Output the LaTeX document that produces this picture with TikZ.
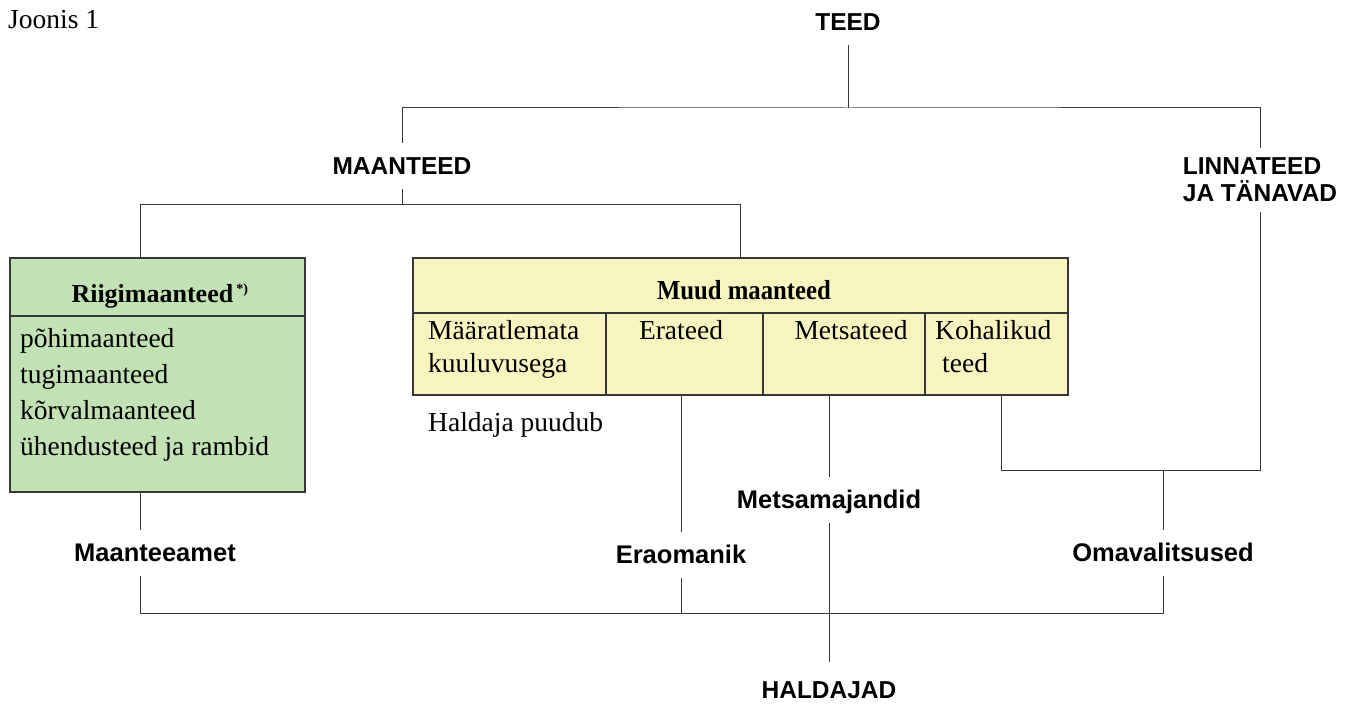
\documentclass[tikz,border=0pt]{standalone}
\usepackage{fontspec}
\setmainfont{Liberation Serif}
\setsansfont{Liberation Sans}
\usetikzlibrary{positioning}

\definecolor{riigiroheline}{RGB}{194,225,180}
\definecolor{muudkollane}{RGB}{248,244,192}
\definecolor{joonevarv}{RGB}{55,55,55}

\tikzset{
  lbl/.style={font=\sffamily\bfseries\fontsize{24.5}{27}\selectfont, inner xsep=2pt, inner ysep=14pt, text height=17.5pt, text depth=0pt},
  haldaja/.style={lbl, font=\sffamily\bfseries\fontsize{25.5}{28}\selectfont},
  txt/.style={font=\fontsize{27.5}{34}\selectfont, inner sep=0pt, text height=18pt, text depth=0pt},
  joon/.style={draw=joonevarv, line width=1pt},
  kast/.style={draw=joonevarv, line width=1.3pt, inner sep=0pt},
}

\begin{document}
\begin{tikzpicture}[x=1pt,y=-1pt]
\useasboundingbox (0,0) rectangle (1356,708);
\node[txt, anchor=west] (joonis) at (8,20) {Joonis 1};

% ylemised tasemed
\node[lbl] (teed) at (848,22) {TEED};
\node[lbl] (maanteed) at (402,166) {MAANTEED};
\node[font=\sffamily\bfseries\fontsize{24.5}{27}\selectfont, align=left, inner xsep=2pt, inner ysep=10pt] (linna) at (1260,180) {LINNATEED\\JA TÄNAVAD};
\coordinate (riigiharu) at (140,205);

% kastid
\node[kast, fill=riigiroheline, minimum width=295pt, minimum height=234pt] (riigi) at (157.5,375) {};
\node[kast, fill=muudkollane, minimum width=655pt, minimum height=137pt] (muud) at (740.5,326.5) {};
\draw[kast] (riigi.west |- 0,316) -- (riigi.east |- 0,316);
\draw[kast] (muud.west |- 0,313) -- (muud.east |- 0,313);
\foreach \x in {606,763,925}
  \draw[kast] (\x,313) -- (muud.south -| \x,0);

\node[font=\bfseries\fontsize{26}{30}\selectfont, inner sep=0pt] (riigipealkiri) at (160,296) {Riigimaanteed\textsuperscript{\,\fontsize{14}{14}\selectfont*)}};
\node[txt, anchor=west] (pohi) at (20,338) {põhimaanteed};
\node[txt, anchor=west] (tugi) at (20,374) {tugimaanteed};
\node[txt, anchor=west] (korval) at (20,410) {kõrvalmaanteed};
\node[txt, anchor=west] (uhendus) at (20,446) {ühendusteed ja rambid};

\node[font=\bfseries\fontsize{27.5}{30}\selectfont\addfontfeature{FakeStretch=0.9}, inner sep=0pt] (muudpealkiri) at (744,290) {Muud maanteed};
\node[txt, anchor=west] (maaratlemata) at (428,330) {Määratlemata};
\node[txt, anchor=west] (kuuluvus) at (428,363) {kuuluvusega};
\node[txt] (erateed) at (681,330) {Erateed};
\node[txt] (metsateed) at (851,330) {Metsateed};
\node[txt, anchor=west] (kohalikud) at (935,330) {Kohalikud};
\node[txt, anchor=west] (kohteed) at (942,363) {teed};
\node[txt, anchor=west] (puudub) at (428,422) {Haldaja puudub};

% haldajad
\node[haldaja] (maaamet) at (155,553) {Maanteeamet};
\node[haldaja] (eraom) at (681,555) {Eraomanik};
\node[haldaja] (metsam) at (829,500) {Metsamajandid};
\node[haldaja] (oma) at (1163,553) {Omavalitsused};
\node[lbl, inner ysep=19pt] (haldajad) at (829,690) {HALDAJAD};

% jooned
\draw[joon] (teed.south) -- (teed.south |- 0,108);
\draw[joon] (maanteed.north) |- (teed.south |- 0,108) -| (linna.north);
\draw[joon] (maanteed.south) -- (maanteed.south |- riigiharu);
\draw[joon] (riigi.north -| riigiharu) |- (muud.north |- riigiharu) -- (muud.north);
\draw[joon] (riigi.south -| riigiharu) -- (maaamet.north -| riigiharu);
\draw[joon] (maaamet.south -| riigiharu) |- (oma.south |- 0,613) -- (oma.south);
\draw[joon] (muud.south -| eraom) -- (eraom.north);
\draw[joon] (eraom.south) -- (eraom.south |- 0,613);
\draw[joon] (muud.south -| metsam) -- (metsam.north);
\draw[joon] (metsam.south) -- (haldajad.north);
\draw[joon] (muud.south -| 1001,0) |- (linna.south |- 0,470) -- (linna.south);
\draw[joon] (oma.north |- 0,470) -- (oma.north);
\end{tikzpicture}
\end{document}
